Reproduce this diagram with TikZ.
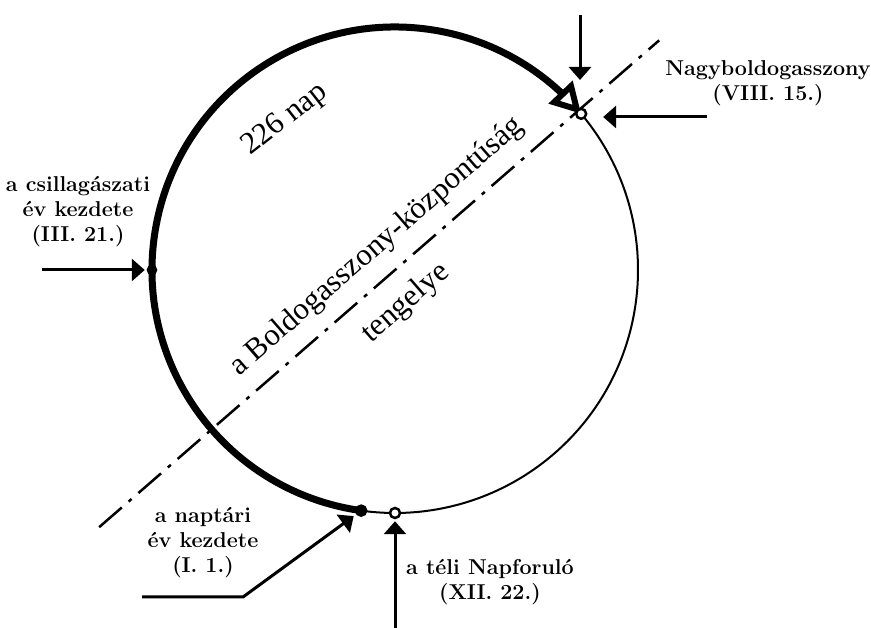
\documentclass[tikz,border=0pt]{standalone}
\usepackage{fontspec}
\newfontfamily\rmszoveg{Liberation Serif}
\usetikzlibrary{arrows.meta, bending}

\begin{document}
\begin{tikzpicture}[x=1pt, y=1pt,
    vastag/.style={line width=7pt},
    vekony/.style={line width=2pt},
    tengely/.style={line width=2.5pt, dash pattern=on 30pt off 9pt on 4pt off 9pt},
    nyil/.style={line width=3pt, -{Triangle[length=13pt, width=22pt]}},
    pont/.style={circle, draw, fill=white, line width=2.5pt, inner sep=0pt, minimum size=10pt},
    felirat/.style={align=center, font=\fontsize{21.5}{25}\selectfont\bfseries},
    dolt/.style={font=\rmszoveg\fontsize{31}{34}\selectfont}]
    \useasboundingbox (0,0) rectangle (871,628);
    \coordinate (C) at (395,358);

    % Tengely
    \draw[tengely] ([shift={(221:392)}]C) -- ([shift={(41:350)}]C);

    % Kor
    \draw[vekony] ([shift={(40:243)}]C) arc[start angle=40, end angle=-98, radius=243];
    \draw[vastag, -{Triangle[open, length=30pt, width=32pt, line width=6pt]}]
        ([shift={(262:243)}]C) arc[start angle=262, end angle=40, radius=243];

    % Pontok
    \node[pont] (nagy) at ([shift={(40:243)}]C) {};
    \node[pont, fill=black, minimum size=8pt] (csill) at ([shift={(180:243)}]C) {};
    \node[pont, fill=black] (jan) at ([shift={(262:243)}]C) {};
    \node[pont] (dec) at ([shift={(270:243)}]C) {};

    % Nyilak
    \coordinate (fent) at (580,613);
    \coordinate (hegy) at (580,548);
    \draw[nyil] (fent) -- (hegy);
    \coordinate (jobb) at (707,511);
    \draw[nyil, shorten >=22pt] (jobb) -- (jobb -| nagy);
    \coordinate (bal) at (42,358);
    \draw[nyil, shorten >=2pt] (bal) -- (csill);
    \coordinate (jkezd) at (142,31);
    \coordinate (jtores) at (243,31);
    \draw[nyil, shorten >=3pt] (jkezd) -- (jtores) -- (jan);
    \coordinate (dlent) at (395,0);
    \draw[nyil, shorten >=2pt] (dlent) -- (dec);

    % Feliratok
    \node[felirat] (nagyfel) at (768,545) {Nagyboldogasszony\\(VIII. 15.)};
    \node[felirat] (csillfel) at (78,416) {a csillagászati\\év kezdete\\(III. 21.)};
    \node[felirat] (janfel) at (203,85) {a naptári\\év kezdete\\(I. 1.)};
    \node[felirat] (decfel) at (490,46) {a téli Napforuló\\(XII. 22.)};
    \node[dolt, rotate=38] (nap) at (285,508) {226 nap};
    \node[dolt, rotate=41] (kozp) at (377,381) {a Boldogasszony-központúság};
    \node[dolt, rotate=41] (teng) at (406,325) {tengelye};
\end{tikzpicture}
\end{document}
